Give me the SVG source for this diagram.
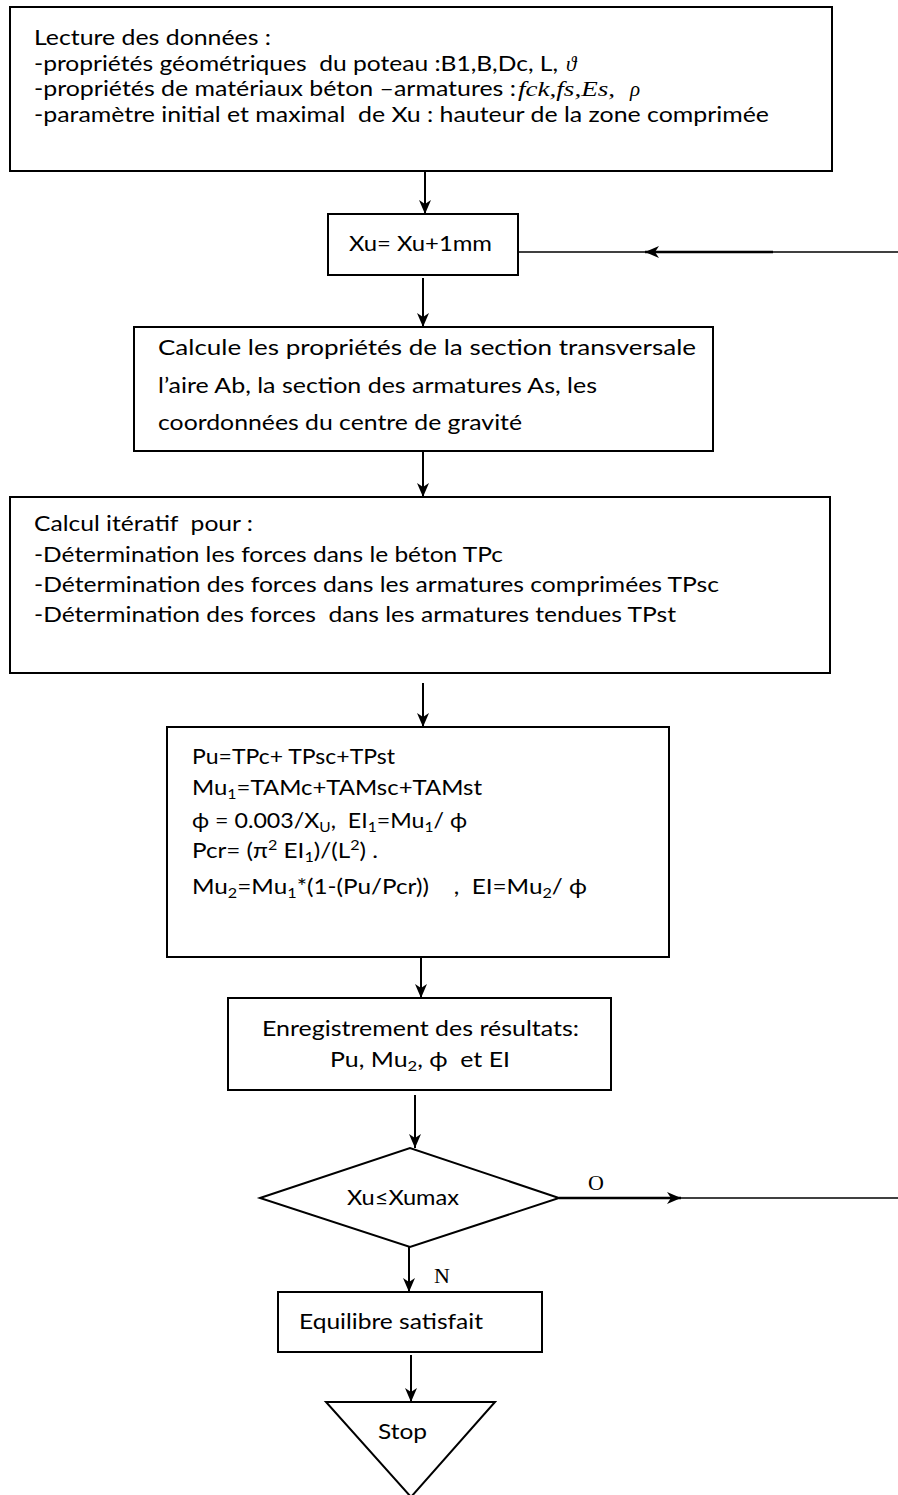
<svg xmlns="http://www.w3.org/2000/svg" width="898" height="1495" viewBox="0 0 898 1495">
  <style>
    .t { font-family: Lato, "Noto Sans", "DejaVu Sans", sans-serif; font-size: 21px; fill: #000; }
    .m { font-family: "Liberation Serif", "DejaVu Serif", serif; font-style: italic; font-size: 21px; fill: #000; }
    .r { font-family: "Liberation Serif", "DejaVu Serif", serif; font-size: 22px; fill: #000; }
    .box { fill: #fff; stroke: #000; stroke-width: 2; }
    .ln { stroke: #000; stroke-width: 2; fill: none; }
    .thin { stroke: #000; stroke-width: 1.5; fill: none; }
    .thick { stroke: #000; stroke-width: 2.6; fill: none; }
  </style>
  <defs>
    <marker id="ah" viewBox="0 0 14 14" refX="14" refY="7" markerWidth="14" markerHeight="14" markerUnits="userSpaceOnUse" orient="auto">
      <path d="M0,1 L14,7 L0,13 L4,7 Z" fill="#000"/>
    </marker>
  </defs>

  <rect width="898" height="1495" fill="#fff"/>

  <!-- connectors -->
  <g id="connectors">
    <line class="ln" x1="425" y1="171" x2="425" y2="214" marker-end="url(#ah)"/>
    <line class="ln" x1="423" y1="278" x2="423" y2="327" marker-end="url(#ah)"/>
    <line class="ln" x1="423" y1="451" x2="423" y2="497" marker-end="url(#ah)"/>
    <line class="ln" x1="423" y1="683" x2="423" y2="727" marker-end="url(#ah)"/>
    <line class="ln" x1="421" y1="957" x2="421" y2="998" marker-end="url(#ah)"/>
    <line class="ln" x1="415" y1="1095" x2="415" y2="1148" marker-end="url(#ah)"/>
    <line class="ln" x1="409" y1="1247" x2="409" y2="1292" marker-end="url(#ah)"/>
    <line class="ln" x1="411" y1="1355" x2="411" y2="1402" marker-end="url(#ah)"/>
    <!-- loop back into the increment step -->
    <line class="thin" x1="898" y1="252" x2="773" y2="252"/>
    <line class="thick" x1="773" y1="252" x2="645" y2="252" marker-end="url(#ah)"/>
    <line class="thin" x1="645" y1="252" x2="518" y2="252"/>
    <!-- "O" branch of the test -->
    <line class="thick" x1="559" y1="1198" x2="681" y2="1198" marker-end="url(#ah)"/>
    <line class="thin" x1="681" y1="1198" x2="898" y2="1198"/>
  </g>

  <g id="lecture">
    <rect class="box" x="10" y="7" width="822" height="164"/>
    <text class="t" x="34" y="45" textLength="237" lengthAdjust="spacingAndGlyphs">Lecture des données :</text>
    <text class="t" x="34" y="70.7" textLength="524" lengthAdjust="spacingAndGlyphs" xml:space="preserve">-propriétés géométriques  du poteau :B1,B,Dc, L,</text>
    <text class="m" x="566" y="70.7" font-size="23">ϑ</text>
    <text class="t" x="34" y="96.4" textLength="482" lengthAdjust="spacingAndGlyphs" xml:space="preserve">-propriétés de matériaux béton –armatures :</text>
    <text class="m" x="518" y="96.4" textLength="97" lengthAdjust="spacingAndGlyphs">fck,fs,Es,</text>
    <text class="m" x="630" y="96.4">ρ</text>
    <text class="t" x="34" y="122" textLength="735" lengthAdjust="spacingAndGlyphs" xml:space="preserve">-paramètre initial et maximal  de Xu : hauteur de la zone comprimée</text>
  </g>

  <g id="increment">
    <rect class="box" x="328" y="214" width="190" height="61"/>
    <text class="t" x="349" y="251" textLength="143" lengthAdjust="spacingAndGlyphs">Xu= Xu+1mm</text>
  </g>

  <g id="section">
    <rect class="box" x="134" y="327" width="579" height="124"/>
    <text class="t" x="158" y="355" textLength="538" lengthAdjust="spacingAndGlyphs">Calcule les propriétés de la section transversale</text>
    <text class="t" x="158" y="393" textLength="439" lengthAdjust="spacingAndGlyphs">l’aire Ab, la section des armatures As, les</text>
    <text class="t" x="158" y="430" textLength="364" lengthAdjust="spacingAndGlyphs">coordonnées du centre de gravité</text>
  </g>

  <g id="forces">
    <rect class="box" x="10" y="497" width="820" height="176"/>
    <text class="t" x="34" y="531" textLength="219" lengthAdjust="spacingAndGlyphs" xml:space="preserve">Calcul itératif  pour :</text>
    <text class="t" x="34" y="561.5" textLength="469" lengthAdjust="spacingAndGlyphs">-Détermination les forces dans le béton TPc</text>
    <text class="t" x="34" y="592" textLength="685" lengthAdjust="spacingAndGlyphs">-Détermination des forces dans les armatures comprimées TPsc</text>
    <text class="t" x="34" y="622" textLength="642" lengthAdjust="spacingAndGlyphs" xml:space="preserve">-Détermination des forces  dans les armatures tendues TPst</text>
  </g>

  <g id="efforts">
    <rect class="box" x="167" y="727" width="502" height="230"/>
    <text class="t" x="192" y="764" textLength="203" lengthAdjust="spacingAndGlyphs">Pu=TPc+ TPsc+TPst</text>
    <text class="t" x="192" y="795" textLength="290" lengthAdjust="spacingAndGlyphs">Mu<tspan font-size="14" dy="4">1</tspan><tspan dy="-4">=TAMc+TAMsc+TAMst</tspan></text>
    <text class="t" x="192" y="828" textLength="275" lengthAdjust="spacingAndGlyphs" xml:space="preserve">ϕ = 0.003/X<tspan font-size="14" dy="4">U</tspan><tspan dy="-4">,  EI</tspan><tspan font-size="14" dy="4">1</tspan><tspan dy="-4">=Mu</tspan><tspan font-size="14" dy="4">1</tspan><tspan dy="-4">/ ϕ</tspan></text>
    <text class="t" x="192" y="858" textLength="186" lengthAdjust="spacingAndGlyphs" xml:space="preserve">Pcr= (π<tspan font-size="14" dy="-8">2</tspan><tspan dy="8"> EI</tspan><tspan font-size="14" dy="4">1</tspan><tspan dy="-4">)/(L</tspan><tspan font-size="14" dy="-8">2</tspan><tspan dy="8">) .</tspan></text>
    <text class="t" x="192" y="894" textLength="395" lengthAdjust="spacingAndGlyphs" xml:space="preserve">Mu<tspan font-size="14" dy="4">2</tspan><tspan dy="-4">=Mu</tspan><tspan font-size="14" dy="4">1</tspan><tspan dy="-4">*(1-(Pu/Pcr))    ,  EI=Mu</tspan><tspan font-size="14" dy="4">2</tspan><tspan dy="-4">/ ϕ</tspan></text>
  </g>

  <g id="enregistrement">
    <rect class="box" x="228" y="998" width="383" height="92"/>
    <text class="t" x="262" y="1036" textLength="317" lengthAdjust="spacingAndGlyphs">Enregistrement des résultats:</text>
    <text class="t" x="330" y="1067" textLength="180" lengthAdjust="spacingAndGlyphs" xml:space="preserve">Pu, Mu<tspan font-size="14" dy="4">2</tspan><tspan dy="-4">, ϕ  et EI</tspan></text>
  </g>

  <g id="test">
    <polygon class="box" points="260,1198 410,1148 559,1198 410,1247"/>
    <text class="t" x="347" y="1205" textLength="112" lengthAdjust="spacingAndGlyphs">Xu≤Xumax</text>
    <text class="r" x="588" y="1190">O</text>
    <text class="r" x="434" y="1283">N</text>
  </g>

  <g id="equilibre">
    <rect class="box" x="278" y="1292" width="264" height="60"/>
    <text class="t" x="299" y="1329" textLength="184" lengthAdjust="spacingAndGlyphs">Equilibre satisfait</text>
  </g>

  <g id="stop">
    <polygon class="box" points="326,1402 495,1402 411,1497"/>
    <text class="t" x="378" y="1439" textLength="49" lengthAdjust="spacingAndGlyphs">Stop</text>
  </g>
</svg>
